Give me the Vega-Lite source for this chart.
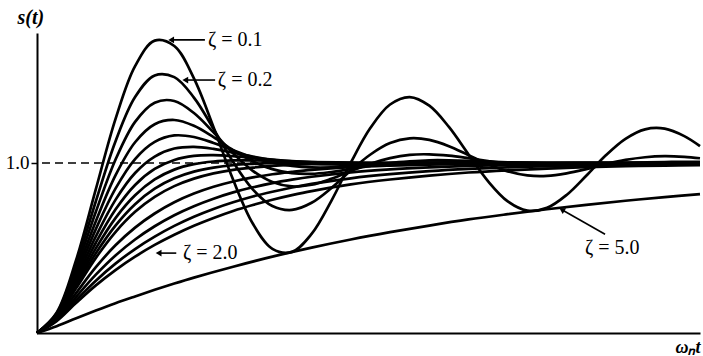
{
  "$schema": "https://vega.github.io/schema/vega-lite/v6.json",
  "width": 663,
  "height": 300,
  "autosize": {"type": "none"},
  "padding": {"left": 37, "top": 33, "right": 3, "bottom": 23},
  "background": "white",
  "config": {"view": {"stroke": null}, "font": "Liberation Serif"},
  "datasets": {
    "curves": [
      {"z":"0.1","t":0,"s":0},{"z":"0.1","t":0.5,"s":0.119},{"z":"0.1","t":1,"s":0.431},{"z":"0.1","t":1.5,"s":0.846},{"z":"0.1","t":2,"s":1.258},{"z":"0.1","t":2.5,"s":1.570},{"z":"0.1","t":3,"s":1.720},{"z":"0.1","t":3.5,"s":1.688},{"z":"0.1","t":4,"s":1.498},{"z":"0.1","t":4.5,"s":1.211},{"z":"0.1","t":5,"s":0.901},{"z":"0.1","t":5.5,"s":0.644},{"z":"0.1","t":6,"s":0.495},{"z":"0.1","t":6.5,"s":0.477},{"z":"0.1","t":7,"s":0.583},{"z":"0.1","t":7.5,"s":0.776},{"z":"0.1","t":8,"s":1.003},{"z":"0.1","t":8.5,"s":1.207},{"z":"0.1","t":9,"s":1.344},{"z":"0.1","t":9.5,"s":1.388},{"z":"0.1","t":10,"s":1.337},{"z":"0.1","t":10.5,"s":1.212},{"z":"0.1","t":11,"s":1.050},{"z":"0.1","t":11.5,"s":0.892},{"z":"0.1","t":12,"s":0.774},{"z":"0.1","t":12.5,"s":0.720},{"z":"0.1","t":13,"s":0.736},{"z":"0.1","t":13.5,"s":0.812},{"z":"0.1","t":14,"s":0.925},{"z":"0.1","t":14.5,"s":1.045},{"z":"0.1","t":15,"s":1.142},{"z":"0.1","t":15.5,"s":1.198},{"z":"0.1","t":16,"s":1.202},{"z":"0.1","t":16.5,"s":1.158},{"z":"0.1","t":16.9,"s":1.099},
      {"z":"0.2","t":0,"s":0},{"z":"0.2","t":0.5,"s":0.115},{"z":"0.2","t":1,"s":0.405},{"z":"0.2","t":1.5,"s":0.775},{"z":"0.2","t":2,"s":1.127},{"z":"0.2","t":2.5,"s":1.388},{"z":"0.2","t":3,"s":1.515},{"z":"0.2","t":3.5,"s":1.505},{"z":"0.2","t":4,"s":1.385},{"z":"0.2","t":4.5,"s":1.201},{"z":"0.2","t":5,"s":1.006},{"z":"0.2","t":5.5,"s":0.845},{"z":"0.2","t":6,"s":0.747},{"z":"0.2","t":6.5,"s":0.724},{"z":"0.2","t":7,"s":0.766},{"z":"0.2","t":7.5,"s":0.852},{"z":"0.2","t":8,"s":0.956},{"z":"0.2","t":8.5,"s":1.050},{"z":"0.2","t":9,"s":1.117},{"z":"0.2","t":9.5,"s":1.145},{"z":"0.2","t":10,"s":1.136},{"z":"0.2","t":10.5,"s":1.099},{"z":"0.2","t":11,"s":1.046},{"z":"0.2","t":11.5,"s":0.993},{"z":"0.2","t":12,"s":0.951},{"z":"0.2","t":12.5,"s":0.927},{"z":"0.2","t":13,"s":0.924},{"z":"0.2","t":13.5,"s":0.939},{"z":"0.2","t":14,"s":0.964},{"z":"0.2","t":14.5,"s":0.993},{"z":"0.2","t":15,"s":1.018},{"z":"0.2","t":15.5,"s":1.034},{"z":"0.2","t":16,"s":1.040},{"z":"0.2","t":16.5,"s":1.036},{"z":"0.2","t":16.9,"s":1.028},
      {"z":"0.3","t":0,"s":0},{"z":"0.3","t":0.5,"s":0.111},{"z":"0.3","t":1,"s":0.382},{"z":"0.3","t":1.5,"s":0.713},{"z":"0.3","t":2,"s":1.019},{"z":"0.3","t":2.5,"s":1.242},{"z":"0.3","t":3,"s":1.355},{"z":"0.3","t":3.5,"s":1.365},{"z":"0.3","t":4,"s":1.294},{"z":"0.3","t":4.5,"s":1.180},{"z":"0.3","t":5,"s":1.057},{"z":"0.3","t":5.5,"s":0.954},{"z":"0.3","t":6,"s":0.888},{"z":"0.3","t":6.5,"s":0.862},{"z":"0.3","t":7,"s":0.872},{"z":"0.3","t":7.5,"s":0.907},{"z":"0.3","t":8,"s":0.952},{"z":"0.3","t":8.5,"s":0.996},{"z":"0.3","t":9,"s":1.029},{"z":"0.3","t":9.5,"s":1.048},{"z":"0.3","t":10,"s":1.051},{"z":"0.3","t":10.5,"s":1.043},{"z":"0.3","t":11,"s":1.028},{"z":"0.3","t":11.5,"s":1.011},{"z":"0.3","t":12,"s":0.996},{"z":"0.3","t":12.5,"s":0.986},{"z":"0.3","t":13,"s":0.981},{"z":"0.3","t":13.5,"s":0.982},{"z":"0.3","t":14,"s":0.986},{"z":"0.3","t":14.5,"s":0.992},{"z":"0.3","t":15,"s":0.998},{"z":"0.3","t":15.5,"s":1.003},{"z":"0.3","t":16,"s":1.006},{"z":"0.3","t":16.5,"s":1.007},{"z":"0.3","t":16.9,"s":1.007},
      {"z":"0.4","t":0,"s":0},{"z":"0.4","t":0.5,"s":0.108},{"z":"0.4","t":1,"s":0.360},{"z":"0.4","t":1.5,"s":0.658},{"z":"0.4","t":2,"s":0.927},{"z":"0.4","t":2.5,"s":1.122},{"z":"0.4","t":3,"s":1.228},{"z":"0.4","t":3.5,"s":1.253},{"z":"0.4","t":4,"s":1.219},{"z":"0.4","t":4.5,"s":1.152},{"z":"0.4","t":5,"s":1.076},{"z":"0.4","t":5.5,"s":1.010},{"z":"0.4","t":6,"s":0.964},{"z":"0.4","t":6.5,"s":0.940},{"z":"0.4","t":7,"s":0.936},{"z":"0.4","t":7.5,"s":0.947},{"z":"0.4","t":8,"s":0.964},{"z":"0.4","t":8.5,"s":0.983},{"z":"0.4","t":9,"s":1.000},{"z":"0.4","t":9.5,"s":1.010},{"z":"0.4","t":10,"s":1.016},{"z":"0.4","t":10.5,"s":1.016},{"z":"0.4","t":11,"s":1.013},{"z":"0.4","t":11.5,"s":1.008},{"z":"0.4","t":12,"s":1.004},{"z":"0.4","t":13,"s":0.997},{"z":"0.4","t":14,"s":0.996},{"z":"0.4","t":15,"s":0.998},{"z":"0.4","t":16,"s":1.000},{"z":"0.4","t":16.9,"s":1.001},
      {"z":"0.5","t":0,"s":0},{"z":"0.5","t":0.5,"s":0.104},{"z":"0.5","t":1,"s":0.340},{"z":"0.5","t":1.5,"s":0.611},{"z":"0.5","t":2,"s":0.849},{"z":"0.5","t":2.5,"s":1.023},{"z":"0.5","t":3,"s":1.124},{"z":"0.5","t":3.5,"s":1.162},{"z":"0.5","t":4,"s":1.153},{"z":"0.5","t":4.5,"s":1.118},{"z":"0.5","t":5,"s":1.075},{"z":"0.5","t":5.5,"s":1.034},{"z":"0.5","t":6,"s":1.002},{"z":"0.5","t":6.5,"s":0.983},{"z":"0.5","t":7,"s":0.974},{"z":"0.5","t":7.5,"s":0.974},{"z":"0.5","t":8,"s":0.979},{"z":"0.5","t":8.5,"s":0.986},{"z":"0.5","t":9,"s":0.993},{"z":"0.5","t":9.5,"s":0.999},{"z":"0.5","t":10,"s":1.002},{"z":"0.5","t":11,"s":1.004},{"z":"0.5","t":12,"s":1.003},{"z":"0.5","t":13,"s":1.000},{"z":"0.5","t":14,"s":0.999},{"z":"0.5","t":15,"s":1.000},{"z":"0.5","t":16.9,"s":1.000},
      {"z":"0.6","t":0,"s":0},{"z":"0.6","t":0.5,"s":0.101},{"z":"0.6","t":1,"s":0.322},{"z":"0.6","t":1.5,"s":0.568},{"z":"0.6","t":2,"s":0.783},{"z":"0.6","t":2.5,"s":0.941},{"z":"0.6","t":3,"s":1.038},{"z":"0.6","t":3.5,"s":1.085},{"z":"0.6","t":4,"s":1.095},{"z":"0.6","t":4.5,"s":1.083},{"z":"0.6","t":5,"s":1.061},{"z":"0.6","t":5.5,"s":1.038},{"z":"0.6","t":6,"s":1.018},{"z":"0.6","t":6.5,"s":1.004},{"z":"0.6","t":7,"s":0.996},{"z":"0.6","t":7.5,"s":0.992},{"z":"0.6","t":8,"s":0.991},{"z":"0.6","t":8.5,"s":0.992},{"z":"0.6","t":9,"s":0.995},{"z":"0.6","t":10,"s":0.999},{"z":"0.6","t":11,"s":1.001},{"z":"0.6","t":12,"s":1.001},{"z":"0.6","t":13,"s":1.000},{"z":"0.6","t":16.9,"s":1.000},
      {"z":"0.7","t":0,"s":0},{"z":"0.7","t":0.5,"s":0.098},{"z":"0.7","t":1,"s":0.306},{"z":"0.7","t":1.5,"s":0.531},{"z":"0.7","t":2,"s":0.726},{"z":"0.7","t":2.5,"s":0.871},{"z":"0.7","t":3,"s":0.965},{"z":"0.7","t":3.5,"s":1.018},{"z":"0.7","t":4,"s":1.042},{"z":"0.7","t":4.5,"s":1.046},{"z":"0.7","t":5,"s":1.040},{"z":"0.7","t":5.5,"s":1.030},{"z":"0.7","t":6,"s":1.020},{"z":"0.7","t":6.5,"s":1.011},{"z":"0.7","t":7,"s":1.005},{"z":"0.7","t":7.5,"s":1.001},{"z":"0.7","t":8,"s":0.999},{"z":"0.7","t":9,"s":0.998},{"z":"0.7","t":10,"s":0.999},{"z":"0.7","t":11,"s":1.000},{"z":"0.7","t":16.9,"s":1.000},
      {"z":"0.8","t":0,"s":0},{"z":"0.8","t":0.5,"s":0.096},{"z":"0.8","t":1,"s":0.291},{"z":"0.8","t":1.5,"s":0.498},{"z":"0.8","t":2,"s":0.676},{"z":"0.8","t":2.5,"s":0.810},{"z":"0.8","t":3,"s":0.903},{"z":"0.8","t":3.5,"s":0.961},{"z":"0.8","t":4,"s":0.993},{"z":"0.8","t":4.5,"s":1.009},{"z":"0.8","t":5,"s":1.015},{"z":"0.8","t":5.5,"s":1.015},{"z":"0.8","t":6,"s":1.012},{"z":"0.8","t":6.5,"s":1.009},{"z":"0.8","t":7,"s":1.006},{"z":"0.8","t":8,"s":1.002},{"z":"0.8","t":9,"s":1.000},{"z":"0.8","t":16.9,"s":1.000},
      {"z":"0.9","t":0,"s":0},{"z":"0.9","t":0.5,"s":0.093},{"z":"0.9","t":1,"s":0.277},{"z":"0.9","t":1.5,"s":0.469},{"z":"0.9","t":2,"s":0.632},{"z":"0.9","t":2.5,"s":0.758},{"z":"0.9","t":3,"s":0.849},{"z":"0.9","t":3.5,"s":0.910},{"z":"0.9","t":4,"s":0.949},{"z":"0.9","t":4.5,"s":0.973},{"z":"0.9","t":5,"s":0.988},{"z":"0.9","t":5.5,"s":0.995},{"z":"0.9","t":6,"s":0.999},{"z":"0.9","t":6.5,"s":1.001},{"z":"0.9","t":7,"s":1.0015},{"z":"0.9","t":8,"s":1.001},{"z":"0.9","t":9,"s":1.001},{"z":"0.9","t":10,"s":1.000},{"z":"0.9","t":16.9,"s":1.000},
      {"z":"1.0","t":0,"s":0},{"z":"1.0","t":0.5,"s":0.090},{"z":"1.0","t":1,"s":0.264},{"z":"1.0","t":1.5,"s":0.442},{"z":"1.0","t":2,"s":0.594},{"z":"1.0","t":2.5,"s":0.713},{"z":"1.0","t":3,"s":0.801},{"z":"1.0","t":3.5,"s":0.864},{"z":"1.0","t":4,"s":0.908},{"z":"1.0","t":4.5,"s":0.939},{"z":"1.0","t":5,"s":0.960},{"z":"1.0","t":5.5,"s":0.973},{"z":"1.0","t":6,"s":0.983},{"z":"1.0","t":6.5,"s":0.989},{"z":"1.0","t":7,"s":0.993},{"z":"1.0","t":8,"s":0.997},{"z":"1.0","t":9,"s":0.999},{"z":"1.0","t":10,"s":0.9995},{"z":"1.0","t":12,"s":1.000},{"z":"1.0","t":16.9,"s":1.000},
      {"z":"1.25","t":0,"s":0},{"z":"1.25","t":0.5,"s":0.084},{"z":"1.25","t":1,"s":0.236},{"z":"1.25","t":1.5,"s":0.387},{"z":"1.25","t":2,"s":0.516},{"z":"1.25","t":2.5,"s":0.620},{"z":"1.25","t":3,"s":0.703},{"z":"1.25","t":3.5,"s":0.769},{"z":"1.25","t":4,"s":0.820},{"z":"1.25","t":4.5,"s":0.860},{"z":"1.25","t":5,"s":0.891},{"z":"1.25","t":5.5,"s":0.915},{"z":"1.25","t":6,"s":0.934},{"z":"1.25","t":6.5,"s":0.948},{"z":"1.25","t":7,"s":0.960},{"z":"1.25","t":8,"s":0.976},{"z":"1.25","t":9,"s":0.985},{"z":"1.25","t":10,"s":0.991},{"z":"1.25","t":11,"s":0.995},{"z":"1.25","t":12,"s":0.997},{"z":"1.25","t":13,"s":0.998},{"z":"1.25","t":14,"s":0.999},{"z":"1.25","t":15,"s":0.999},{"z":"1.25","t":16.9,"s":1.000},
      {"z":"1.5","t":0,"s":0},{"z":"1.5","t":0.5,"s":0.079},{"z":"1.5","t":1,"s":0.213},{"z":"1.5","t":1.5,"s":0.343},{"z":"1.5","t":2,"s":0.456},{"z":"1.5","t":2.5,"s":0.550},{"z":"1.5","t":3,"s":0.628},{"z":"1.5","t":3.5,"s":0.693},{"z":"1.5","t":4,"s":0.746},{"z":"1.5","t":4.5,"s":0.790},{"z":"1.5","t":5,"s":0.827},{"z":"1.5","t":5.5,"s":0.857},{"z":"1.5","t":6,"s":0.882},{"z":"1.5","t":6.5,"s":0.902},{"z":"1.5","t":7,"s":0.919},{"z":"1.5","t":8,"s":0.945},{"z":"1.5","t":9,"s":0.962},{"z":"1.5","t":10,"s":0.974},{"z":"1.5","t":11,"s":0.983},{"z":"1.5","t":12,"s":0.988},{"z":"1.5","t":13,"s":0.992},{"z":"1.5","t":14,"s":0.994},{"z":"1.5","t":15,"s":0.996},{"z":"1.5","t":16,"s":0.997},{"z":"1.5","t":16.9,"s":0.998},
      {"z":"1.75","t":0,"s":0},{"z":"1.75","t":0.5,"s":0.074},{"z":"1.75","t":1,"s":0.194},{"z":"1.75","t":1.5,"s":0.308},{"z":"1.75","t":2,"s":0.408},{"z":"1.75","t":2.5,"s":0.494},{"z":"1.75","t":3,"s":0.567},{"z":"1.75","t":3.5,"s":0.630},{"z":"1.75","t":4,"s":0.684},{"z":"1.75","t":4.5,"s":0.730},{"z":"1.75","t":5,"s":0.769},{"z":"1.75","t":5.5,"s":0.803},{"z":"1.75","t":6,"s":0.831},{"z":"1.75","t":6.5,"s":0.856},{"z":"1.75","t":7,"s":0.877},{"z":"1.75","t":8,"s":0.910},{"z":"1.75","t":9,"s":0.934},{"z":"1.75","t":10,"s":0.952},{"z":"1.75","t":11,"s":0.965},{"z":"1.75","t":12,"s":0.974},{"z":"1.75","t":13,"s":0.981},{"z":"1.75","t":14,"s":0.986},{"z":"1.75","t":15,"s":0.990},{"z":"1.75","t":16,"s":0.993},{"z":"1.75","t":16.9,"s":0.995},
      {"z":"2.0","t":0,"s":0},{"z":"2.0","t":0.5,"s":0.070},{"z":"2.0","t":1,"s":0.178},{"z":"2.0","t":1.5,"s":0.280},{"z":"2.0","t":2,"s":0.370},{"z":"2.0","t":2.5,"s":0.449},{"z":"2.0","t":3,"s":0.518},{"z":"2.0","t":3.5,"s":0.578},{"z":"2.0","t":4,"s":0.631},{"z":"2.0","t":4.5,"s":0.677},{"z":"2.0","t":5,"s":0.718},{"z":"2.0","t":5.5,"s":0.753},{"z":"2.0","t":6,"s":0.784},{"z":"2.0","t":6.5,"s":0.811},{"z":"2.0","t":7,"s":0.835},{"z":"2.0","t":8,"s":0.874},{"z":"2.0","t":9,"s":0.903},{"z":"2.0","t":10,"s":0.926},{"z":"2.0","t":11,"s":0.944},{"z":"2.0","t":12,"s":0.957},{"z":"2.0","t":13,"s":0.967},{"z":"2.0","t":14,"s":0.975},{"z":"2.0","t":15,"s":0.981},{"z":"2.0","t":16,"s":0.985},{"z":"2.0","t":16.9,"s":0.988},
      {"z":"5.0","t":0,"s":0},{"z":"5.0","t":0.5,"s":0.040},{"z":"5.0","t":1,"s":0.087},{"z":"5.0","t":1.5,"s":0.132},{"z":"5.0","t":2,"s":0.175},{"z":"5.0","t":2.5,"s":0.215},{"z":"5.0","t":3,"s":0.254},{"z":"5.0","t":3.5,"s":0.291},{"z":"5.0","t":4,"s":0.326},{"z":"5.0","t":5,"s":0.390},{"z":"5.0","t":6,"s":0.449},{"z":"5.0","t":7,"s":0.502},{"z":"5.0","t":8,"s":0.550},{"z":"5.0","t":9,"s":0.593},{"z":"5.0","t":10,"s":0.632},{"z":"5.0","t":11,"s":0.668},{"z":"5.0","t":12,"s":0.699},{"z":"5.0","t":13,"s":0.728},{"z":"5.0","t":14,"s":0.754},{"z":"5.0","t":15,"s":0.778},{"z":"5.0","t":16,"s":0.799},{"z":"5.0","t":16.9,"s":0.817}
    ],
    "notes": [
      {"lab":"ζ = 0.1","dir":"h","tx":4.36,"ty":1.724,"ax":4.28,"ay":1.724,"hx":3.42,"hy":1.724},
      {"lab":"ζ = 0.2","dir":"h","tx":4.61,"ty":1.488,"ax":4.54,"ay":1.488,"hx":3.78,"hy":1.488},
      {"lab":"ζ = 2.0","dir":"h","tx":3.72,"ty":0.47,"ax":3.55,"ay":0.47,"hx":3.1,"hy":0.47},
      {"lab":"ζ = 5.0","dir":"d","tx":13.97,"ty":0.5,"ax":14.48,"ay":0.581,"hx":13.38,"hy":0.725}
    ]
  },
  "layer": [
    {
      "data": {"values": [{}]},
      "mark": {"type": "rule", "strokeDash": [8, 5], "strokeWidth": 1.4, "color": "black"},
      "encoding": {"y": {"datum": 1, "type": "quantitative"}}
    },
    {
      "data": {"name": "curves"},
      "mark": {"type": "line", "interpolate": "catmull-rom", "stroke": "black", "strokeWidth": 2.7},
      "encoding": {
        "x": {
          "field": "t", "type": "quantitative",
          "scale": {"domain": [0, 16.9], "nice": false, "zero": false},
          "axis": {
            "ticks": false, "labels": false, "grid": false,
            "domainColor": "black", "domainWidth": 2,
            "title": "ωₙt", "titleX": 663, "titleY": 14, "titleAlign": "right", "titleBaseline": "middle",
            "titleFont": "Liberation Serif", "titleFontStyle": "italic", "titleFontWeight": "bold", "titleFontSize": 18, "titleColor": "black"
          }
        },
        "y": {
          "field": "s", "type": "quantitative",
          "scale": {"domain": [0, 1.7647], "nice": false},
          "axis": {
            "values": [1], "format": ".1f", "grid": false,
            "labelFont": "Liberation Serif", "labelFontSize": 19, "labelColor": "black", "labelPadding": 2,
            "tickSize": 6, "tickColor": "black", "tickWidth": 1.5,
            "domainColor": "black", "domainWidth": 2,
            "title": "s(t)", "titleAngle": 0, "titleX": -20, "titleY": -16, "titleAlign": "left", "titleBaseline": "middle",
            "titleFont": "Liberation Serif", "titleFontStyle": "italic", "titleFontWeight": "bold", "titleFontSize": 20, "titleColor": "black"
          }
        },
        "detail": {"field": "z", "type": "nominal"}
      }
    },
    {
      "data": {"name": "notes"},
      "mark": {"type": "rule", "color": "black", "strokeWidth": 1.6},
      "encoding": {
        "x": {"field": "ax", "type": "quantitative"},
        "x2": {"field": "hx"},
        "y": {"field": "ay", "type": "quantitative"},
        "y2": {"field": "hy"}
      }
    },
    {
      "data": {"name": "notes"},
      "transform": [{"filter": "datum.dir == 'h'"}],
      "mark": {"type": "point", "shape": "triangle-left", "filled": true, "color": "black", "size": 45, "opacity": 1},
      "encoding": {
        "x": {"field": "hx", "type": "quantitative"},
        "y": {"field": "hy", "type": "quantitative"}
      }
    },
    {
      "data": {"name": "notes"},
      "transform": [{"filter": "datum.dir == 'd'"}],
      "mark": {"type": "point", "shape": "triangle-left", "filled": true, "color": "black", "size": 45, "angle": 30, "opacity": 1},
      "encoding": {
        "x": {"field": "hx", "type": "quantitative"},
        "y": {"field": "hy", "type": "quantitative"}
      }
    },
    {
      "data": {"name": "notes"},
      "mark": {"type": "text", "align": "left", "baseline": "middle", "font": "Liberation Serif", "fontSize": 20, "color": "black"},
      "encoding": {
        "x": {"field": "tx", "type": "quantitative"},
        "y": {"field": "ty", "type": "quantitative"},
        "text": {"field": "lab"}
      }
    }
  ]
}
